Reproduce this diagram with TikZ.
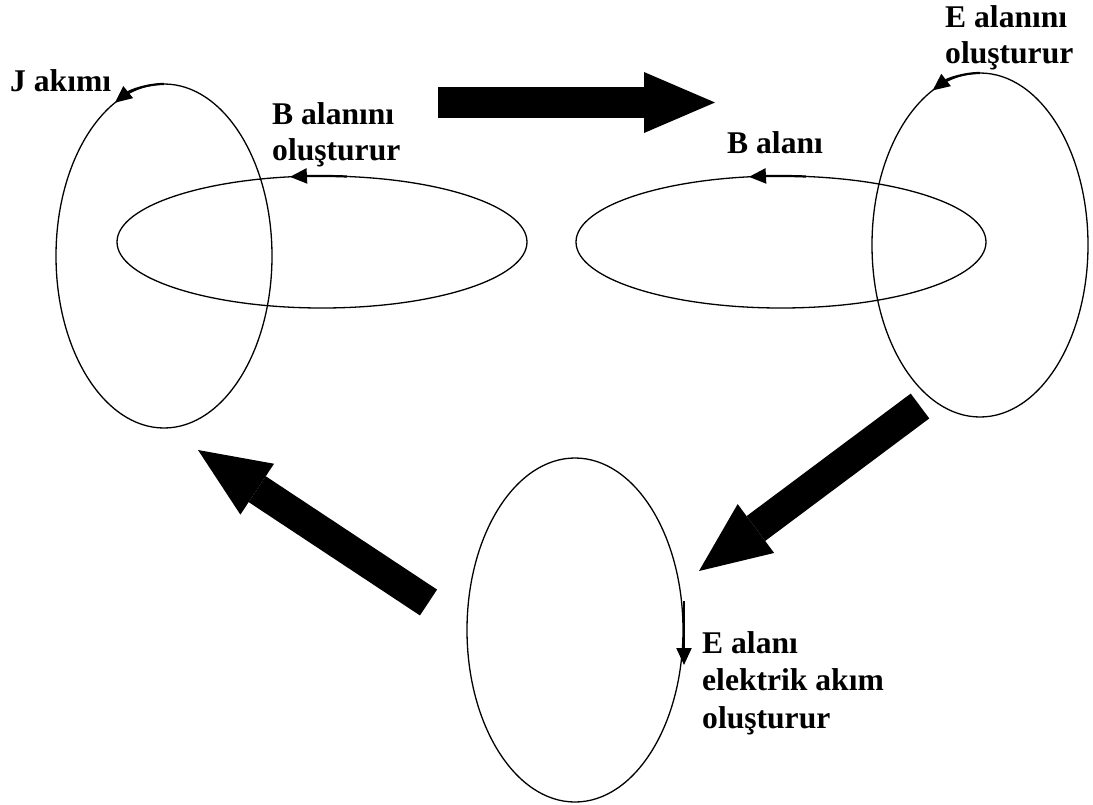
\documentclass[tikz,border=0pt]{standalone}
\usepackage{fontspec}
\setmainfont{Liberation Serif}
\usetikzlibrary{arrows.meta, shapes.geometric}

\begin{document}
\begin{tikzpicture}[x=1pt, y=-1pt,
    ring/.style={draw, ellipse, line width=1.3pt, inner sep=0pt, outer sep=0pt},
    tall/.style={ring, minimum width=216pt, minimum height=344pt},
    flat/.style={ring, minimum width=410pt, minimum height=132pt},
    lab/.style={anchor=base west, inner sep=0pt, align=left, font=\bfseries\fontsize{31.6}{36}\selectfont},
    spin/.style={line width=2.2pt, -{Triangle[length=17pt, width=15pt]}},
    bigarrow/.style={line width=31pt, -{Triangle[length=71pt, width=61pt, line width=0pt]}}]
    \useasboundingbox (0,0) rectangle (1093,804);
    % rings
    \node[tall] (jring) at (164,256) {};
    \node[flat] (bring1) at (322,242) {};
    \node[flat] (bring2) at (781,242) {};
    \node[tall] (ering1) at (980,245) {};
    \node[tall] (ering2) at (575,630) {};
    % directions on the rings
    \draw[spin] (jring.north) arc[start angle=270, end angle=243, x radius=108, y radius=172];
    \draw[spin] (bring1.center) ++(25,-65.5) arc[start angle=277, end angle=261, x radius=205, y radius=66];
    \draw[spin] (bring2.center) ++(25,-65.5) arc[start angle=277, end angle=261, x radius=205, y radius=66];
    \draw[spin] (ering1.north) arc[start angle=270, end angle=244, x radius=108, y radius=172];
    \draw[spin] (ering2.east) ++(1,-29) -- ++(0,64);
    % labels (base = last line)
    \node[lab] (jlab) at (10,91) {J akımı};
    \node[lab] (blab1) at (272,160) {B alanını\\oluşturur};
    \node[lab] (blab2) at (727,153) {B alanı};
    \node[lab] (elab1) at (945,63) {E alanını\\oluşturur};
    \node[lab, font=\bfseries\fontsize{31.6}{37.5}\selectfont] (elab2) at (702,728) {E alanı\\elektrik akım\\oluşturur};
    % big arrows
    \coordinate (t1) at (438,102.5);
    \coordinate (t2) at (715,102.5);
    \coordinate (r1) at (920,406);
    \coordinate (r2) at (699,571);
    \coordinate (l1) at (428.5,602.5);
    \coordinate (l2) at (198,450);
    \path[bigarrow]
    (t1) edge (t2)
    (r1) edge (r2)
    (l1) edge (l2);
\end{tikzpicture}
\end{document}
